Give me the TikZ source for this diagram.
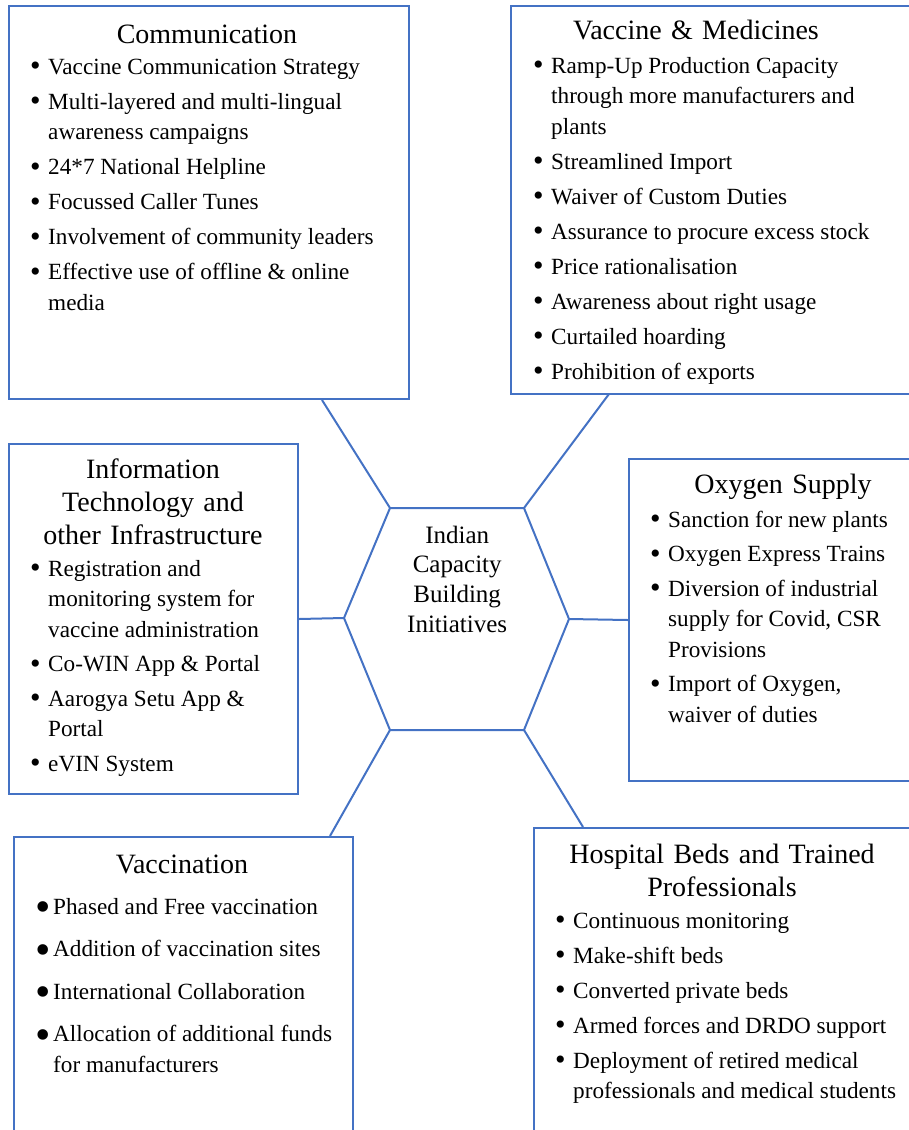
\documentclass[tikz,border=0pt]{standalone}
\usepackage{fontspec}
\setmainfont{Liberation Serif}
\definecolor{ibblue}{HTML}{4472C4}

\newcommand{\ttlfont}{\fontsize{28}{33}\selectfont}
\newcommand{\itmfont}{\fontsize{23.2}{30.5}\selectfont}
\newcommand{\hubfont}{\fontsize{25}{29.7}\selectfont}
\newcommand{\bit}[1]{\par\hangindent=18pt\hangafter=1\noindent\makebox[18pt][l]{\raisebox{-1.5pt}{\fontsize{30}{30}\selectfont\textbullet}}#1}
\newcommand{\bigbit}[1]{\par\hangindent=18pt\hangafter=1\noindent\makebox[18pt][l]{\raisebox{-7.5pt}{\fontsize{44}{44}\selectfont\textbullet}}#1}
\newenvironment{blist}[2]{\begin{minipage}[t]{#1}\itmfont\raggedright\setlength{\parskip}{#2}}{\end{minipage}}

\tikzset{
  panel/.style={draw=ibblue, line width=2pt, anchor=north west, inner sep=0pt},
  link/.style={draw=ibblue, line width=2pt},
  heading/.style={anchor=base, align=center, text width=#1, inner sep=0pt, font=\ttlfont},
  points/.style={anchor=base west, inner sep=0pt},
}

\begin{document}
\begin{tikzpicture}[x=1pt, y=-1pt]
\useasboundingbox (0,0) rectangle (909,1130);
\clip (0,0) rectangle (909,1130);

\node[panel, minimum width=400pt, minimum height=393pt] (comm) at (8,5) {};
\node[panel, minimum width=420pt, minimum height=388pt] (vacc) at (510,5) {};
\node[panel, minimum width=289pt, minimum height=350pt] (info) at (8,443) {};
\node[panel, minimum width=300pt, minimum height=322pt] (oxy) at (628,458) {};
\node[panel, minimum width=339pt, minimum height=350pt] (vax) at (13,836) {};
\node[panel, minimum width=400pt, minimum height=350pt] (hosp) at (533,827) {};

\coordinate (h1) at (390,508);
\coordinate (h2) at (524,508);
\coordinate (h3) at (569,619);
\coordinate (h4) at (524,730);
\coordinate (h5) at (390,730);
\coordinate (h6) at (344,618);
\draw[link, line join=round] (h1) -- (h2) -- (h3) -- (h4) -- (h5) -- (h6) -- cycle;
\node[points] (hub) at (377,543)
  {\begin{minipage}[t]{160pt}\centering\hubfont Indian\\Capacity\\Building\\Initiatives\end{minipage}};

\coordinate (e1) at (322,400);
\coordinate (e2) at (609,394);
\coordinate (e5) at (330,836);
\coordinate (e4) at (583,827);
\draw[link] (h1) -- (e1);
\draw[link] (h2) -- (e2);
\draw[link] (h6) -- (info.east);
\draw[link] (h3) -- (oxy.west);
\draw[link] (h5) -- (e5);
\draw[link] (h4) -- (e4);

\node[heading=380pt] (commT) at (207,43) {Communication};
\node[points] (commL) at (30,74) {\begin{blist}{370pt}{4.5pt}%
  \bit{Vaccine Communication Strategy}
  \bit{Multi-layered and multi-lingual\newline awareness campaigns}
  \bit{24*7 National Helpline}
  \bit{Focussed Caller Tunes}
  \bit{Involvement of community leaders}
  \bit{Effective use of offline \& online\newline media}\end{blist}};

\node[heading=380pt] (vaccT) at (696,39) {Vaccine \& Medicines};
\node[points] (vaccL) at (533,73) {\begin{blist}{370pt}{4.5pt}%
  \bit{Ramp-Up Production Capacity\newline through more manufacturers and\newline plants}
  \bit{Streamlined Import}
  \bit{Waiver of Custom Duties}
  \bit{Assurance to procure excess stock}
  \bit{Price rationalisation}
  \bit{Awareness about right usage}
  \bit{Curtailed hoarding}
  \bit{Prohibition of exports}\end{blist}};

\node[heading=280pt] (infoT) at (153,478) {Information\\Technology and\\other Infrastructure};
\node[points] (infoL) at (30,576) {\begin{blist}{265pt}{4pt}%
  \bit{Registration and\newline monitoring system for\newline vaccine administration}
  \bit{Co-WIN App \& Portal}
  \bit{Aarogya Setu App \&\newline Portal}
  \bit{eVIN System}\end{blist}};

\node[heading=270pt] (oxyT) at (783,493) {Oxygen Supply};
\node[points] (oxyL) at (650,527) {\begin{blist}{255pt}{4pt}%
  \bit{Sanction for new plants}
  \bit{Oxygen Express Trains}
  \bit{Diversion of industrial\newline supply for Covid, CSR\newline Provisions}
  \bit{Import of Oxygen,\newline waiver of duties}\end{blist}};

\node[heading=320pt] (vaxT) at (182,873) {Vaccination};
\node[points] (vaxL) at (35,914) {\begin{blist}{310pt}{12pt}%
  \bigbit{Phased and Free vaccination}
  \bigbit{Addition of vaccination sites}
  \bigbit{International Collaboration}
  \bigbit{Allocation of additional funds\newline for manufacturers}\end{blist}};

\node[heading=370pt] (hospT) at (722,863) {Hospital Beds and Trained\\Professionals};
\node[points] (hospL) at (555,928) {\begin{blist}{355pt}{4.5pt}%
  \bit{Continuous monitoring}
  \bit{Make-shift beds}
  \bit{Converted private beds}
  \bit{Armed forces and DRDO support}
  \bit{Deployment of retired medical\newline professionals and medical students}\end{blist}};
\end{tikzpicture}
\end{document}
